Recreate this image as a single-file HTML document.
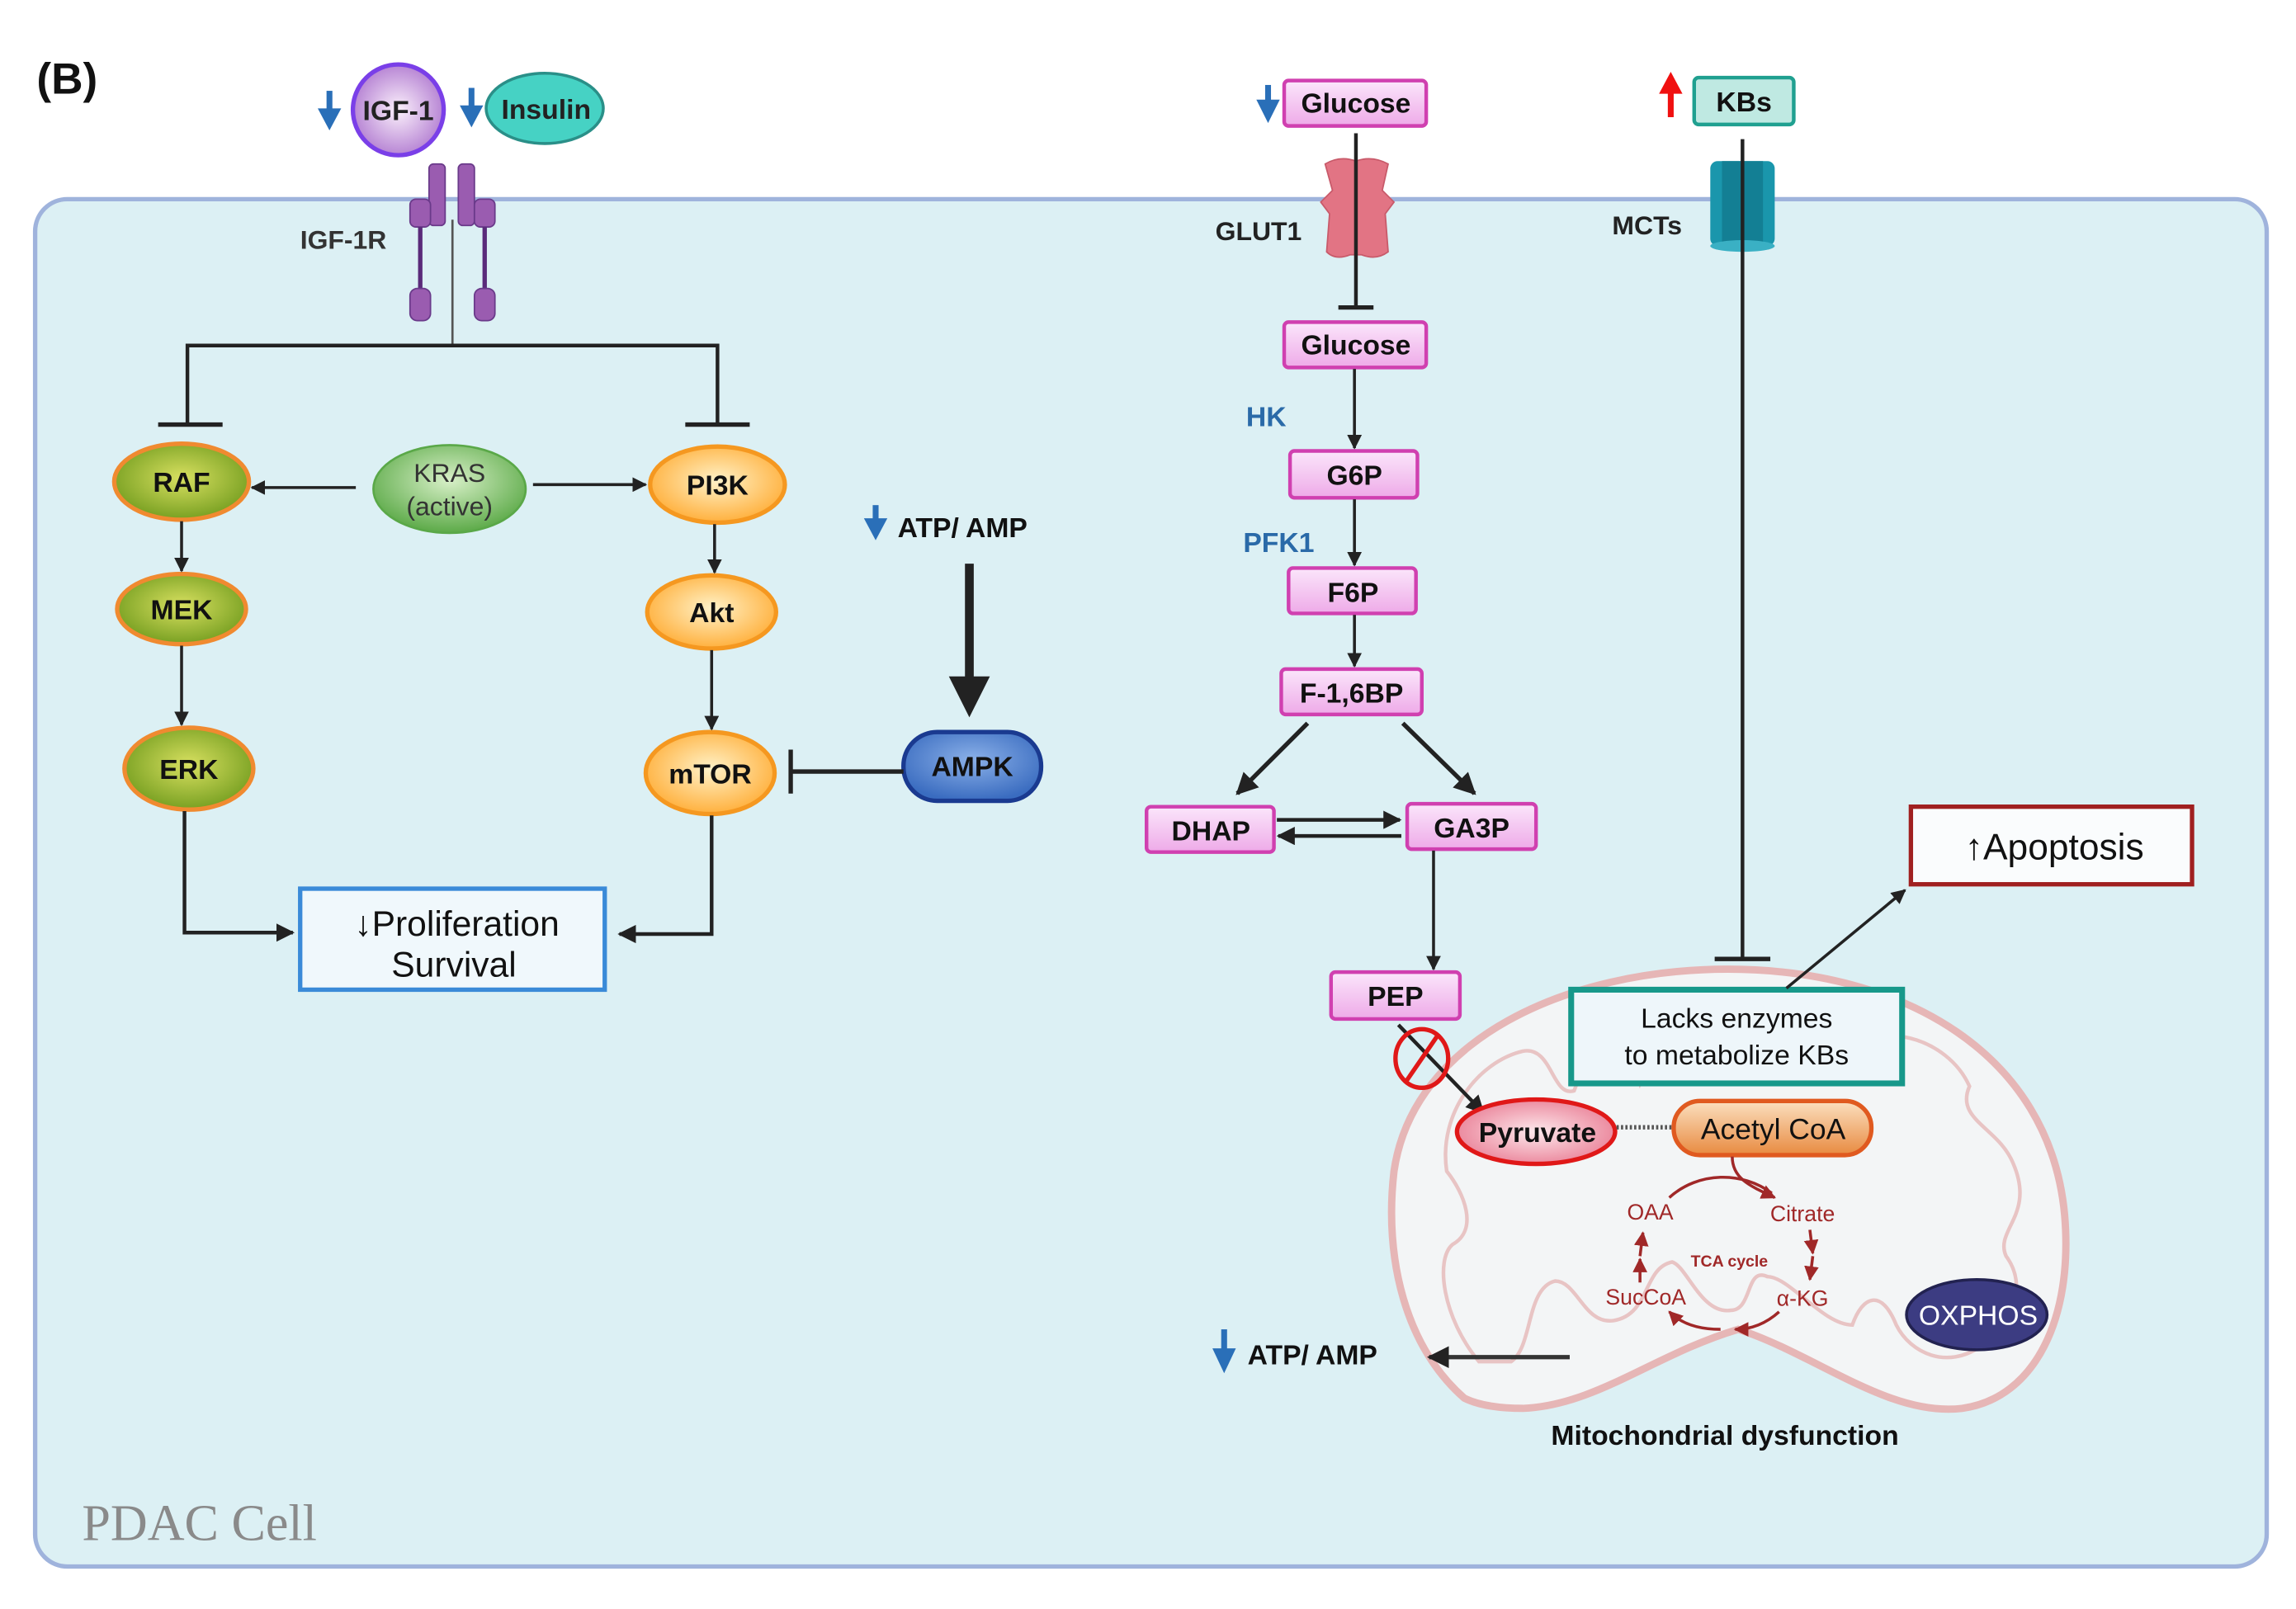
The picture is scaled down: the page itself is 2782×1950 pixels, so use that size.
<!DOCTYPE html>
<html><head><meta charset="utf-8"><style>
html,body{margin:0;padding:0;background:#fff;}
svg{display:block;}
text{font-family:"Liberation Sans",sans-serif;font-weight:bold;}
</style></head><body>
<svg width="2782" height="1950" viewBox="0 0 1568 1099" xmlns="http://www.w3.org/2000/svg">
<defs>
<radialGradient id="gOl" cx="50%" cy="45%" r="60%"><stop offset="0" stop-color="#d8e060"/><stop offset="1" stop-color="#6f9a1c"/></radialGradient>
<radialGradient id="gOr" cx="50%" cy="45%" r="60%"><stop offset="0" stop-color="#fff2c8"/><stop offset="1" stop-color="#ffaa30"/></radialGradient>
<radialGradient id="gGr" cx="50%" cy="40%" r="60%"><stop offset="0" stop-color="#d8f0c8"/><stop offset="1" stop-color="#5caa48"/></radialGradient>
<radialGradient id="gPu" cx="50%" cy="50%" r="55%"><stop offset="0" stop-color="#fbf0fb"/><stop offset="1" stop-color="#b07ad0"/></radialGradient>
<radialGradient id="gBl" cx="50%" cy="40%" r="60%"><stop offset="0" stop-color="#8ab0e8"/><stop offset="1" stop-color="#3a6cc0"/></radialGradient>
<linearGradient id="gPk" x1="0" y1="0" x2="0" y2="1"><stop offset="0" stop-color="#fbe6fb"/><stop offset="1" stop-color="#eeaae8"/></linearGradient>
<radialGradient id="gPy" cx="50%" cy="50%" r="60%"><stop offset="0" stop-color="#fde8ec"/><stop offset="1" stop-color="#e87890"/></radialGradient>
<linearGradient id="gAc" x1="0" y1="0" x2="0" y2="1"><stop offset="0" stop-color="#fbe0c0"/><stop offset="1" stop-color="#e88a40"/></linearGradient>
<marker id="ar" viewBox="0 0 10 10" refX="9" refY="5" markerWidth="5" markerHeight="5" orient="auto"><path d="M0,0 L10,5 L0,10 Z" fill="#222"/></marker>
<marker id="arR" viewBox="0 0 10 10" refX="9" refY="5" markerWidth="5" markerHeight="5" orient="auto"><path d="M0,0 L10,5 L0,10 Z" fill="#a02828"/></marker>
</defs>

<!-- cell -->
<rect x="24" y="136" width="1524" height="934" rx="22" fill="#dcf0f4" stroke="#9fb3dc" stroke-width="3"/>
<text x="25" y="64" font-size="30" fill="#111">(B)</text>
<text x="56" y="1052" font-size="35" fill="#8a8a8a" style="font-family:'Liberation Serif',serif;font-weight:normal">PDAC Cell</text>

<!-- ligands -->
<path d="M225,62 V78" stroke="#2a6fb8" stroke-width="4"/><path d="M217,74 L233,74 L225,89 Z" fill="#2a6fb8"/>
<circle cx="272" cy="75" r="31" fill="url(#gPu)" stroke="#7a3fe8" stroke-width="3"/>
<text x="272" y="82" font-size="19" text-anchor="middle" fill="#222">IGF-1</text>
<path d="M322,60 V76" stroke="#2a6fb8" stroke-width="4"/><path d="M314,72 L330,72 L322,87 Z" fill="#2a6fb8"/>
<ellipse cx="372" cy="74" rx="40" ry="24" fill="#46d2c4" stroke="#2a8f88" stroke-width="2"/>
<text x="373" y="81" font-size="19" text-anchor="middle" fill="#222">Insulin</text>

<!-- receptor -->
<line x1="309" y1="150" x2="309" y2="236" stroke="#555" stroke-width="1.5"/>
<rect x="293" y="112" width="11" height="42" rx="3" fill="#9a5cb0" stroke="#6a3a8a"/>
<rect x="313" y="112" width="11" height="42" rx="3" fill="#9a5cb0" stroke="#6a3a8a"/>
<rect x="280" y="136" width="14" height="19" rx="4" fill="#9a5cb0" stroke="#6a3a8a"/>
<rect x="324" y="136" width="14" height="19" rx="4" fill="#9a5cb0" stroke="#6a3a8a"/>
<line x1="287" y1="155" x2="287" y2="200" stroke="#5a2a7a" stroke-width="3"/>
<line x1="331" y1="155" x2="331" y2="200" stroke="#5a2a7a" stroke-width="3"/>
<rect x="280" y="197" width="14" height="22" rx="5" fill="#9a5cb0" stroke="#6a3a8a"/>
<rect x="324" y="197" width="14" height="22" rx="5" fill="#9a5cb0" stroke="#6a3a8a"/>
<text x="205" y="170" font-size="18" fill="#333">IGF-1R</text>

<!-- branch inhibition -->
<path d="M128,290 V236 H490 V290" fill="none" stroke="#222" stroke-width="2.5"/>
<line x1="108" y1="290" x2="152" y2="290" stroke="#222" stroke-width="3"/>
<line x1="468" y1="290" x2="512" y2="290" stroke="#222" stroke-width="3"/>

<!-- left nodes -->
<ellipse cx="124" cy="329" rx="46" ry="26" fill="url(#gOl)" stroke="#f08a30" stroke-width="3"/>
<text x="124" y="336" font-size="19" text-anchor="middle" fill="#111">RAF</text>
<ellipse cx="124" cy="416" rx="44" ry="24" fill="url(#gOl)" stroke="#f08a30" stroke-width="3"/>
<text x="124" y="423" font-size="19" text-anchor="middle" fill="#111">MEK</text>
<ellipse cx="129" cy="525" rx="44" ry="28" fill="url(#gOl)" stroke="#f08a30" stroke-width="3"/>
<text x="129" y="532" font-size="19" text-anchor="middle" fill="#111">ERK</text>
<ellipse cx="307" cy="334" rx="52" ry="30" fill="url(#gGr)" stroke="#5aa848" stroke-width="1.5"/>
<text x="307" y="329" font-size="18" text-anchor="middle" fill="#333" style="font-weight:normal">KRAS</text>
<text x="307" y="352" font-size="18" text-anchor="middle" fill="#333" style="font-weight:normal">(active)</text>
<line x1="243" y1="333" x2="172" y2="333" stroke="#222" stroke-width="2" marker-end="url(#ar)"/>
<line x1="364" y1="331" x2="441" y2="331" stroke="#222" stroke-width="2" marker-end="url(#ar)"/>
<line x1="124" y1="356" x2="124" y2="390" stroke="#222" stroke-width="2" marker-end="url(#ar)"/>
<line x1="124" y1="441" x2="124" y2="495" stroke="#222" stroke-width="2" marker-end="url(#ar)"/>

<!-- right nodes -->
<ellipse cx="490" cy="331" rx="46" ry="26" fill="url(#gOr)" stroke="#f59820" stroke-width="3"/>
<text x="490" y="338" font-size="19" text-anchor="middle" fill="#111">PI3K</text>
<ellipse cx="486" cy="418" rx="44" ry="25" fill="url(#gOr)" stroke="#f59820" stroke-width="3"/>
<text x="486" y="425" font-size="19" text-anchor="middle" fill="#111">Akt</text>
<ellipse cx="485" cy="528" rx="44" ry="28" fill="url(#gOr)" stroke="#f59820" stroke-width="3"/>
<text x="485" y="535" font-size="19" text-anchor="middle" fill="#111">mTOR</text>
<line x1="488" y1="358" x2="488" y2="391" stroke="#222" stroke-width="2" marker-end="url(#ar)"/>
<line x1="486" y1="444" x2="486" y2="498" stroke="#222" stroke-width="2" marker-end="url(#ar)"/>

<!-- AMPK -->
<path d="M598,345 V358" stroke="#2a6fb8" stroke-width="4"/><path d="M590,354 L606,354 L598,369 Z" fill="#2a6fb8"/>
<text x="613" y="367" font-size="19" fill="#111">ATP/ AMP</text>
<line x1="662" y1="385" x2="662" y2="468" stroke="#222" stroke-width="6"/>
<path d="M648,462 L676,462 L662,490 Z" fill="#222"/>
<rect x="617" y="500" width="94" height="47" rx="23" fill="url(#gBl)" stroke="#1a3a90" stroke-width="3"/>
<text x="664" y="530" font-size="19" text-anchor="middle" fill="#111">AMPK</text>
<line x1="617" y1="527" x2="540" y2="527" stroke="#222" stroke-width="3"/>
<line x1="540" y1="512" x2="540" y2="542" stroke="#222" stroke-width="3"/>

<!-- Proliferation -->
<path d="M126,554 V637 H200" fill="none" stroke="#222" stroke-width="2.5" marker-end="url(#ar)"/>
<path d="M486,557 V638 H423" fill="none" stroke="#222" stroke-width="2.5" marker-end="url(#ar)"/>
<rect x="205" y="607" width="208" height="69" fill="#f0f8fc" stroke="#3a8ad8" stroke-width="3"/>
<text x="312" y="639" font-size="24" text-anchor="middle" fill="#111" style="font-weight:normal">↓Proliferation</text>
<text x="310" y="667" font-size="24" text-anchor="middle" fill="#111" style="font-weight:normal">Survival</text>

<!-- glycolysis -->
<path d="M866,58 V72" stroke="#2a6fb8" stroke-width="4"/><path d="M858,68 L874,68 L866,84 Z" fill="#2a6fb8"/>
<rect x="877" y="55" width="97" height="31" rx="3" fill="url(#gPk)" stroke="#d040b0" stroke-width="2.5"/>
<text x="926" y="77" font-size="19" text-anchor="middle" fill="#111">Glucose</text>
<path d="M905,112 Q915,106 926,110 Q937,106 948,112 L944,130 L952,138 L946,146 L948,172 Q940,178 930,174 L922,174 Q912,178 906,172 L908,146 L902,138 L910,130 Z" fill="#e27484" stroke="#c85a6a" stroke-width="1"/>
<line x1="926" y1="91" x2="926" y2="210" stroke="#222" stroke-width="2.5"/>
<line x1="914" y1="210" x2="938" y2="210" stroke="#222" stroke-width="3"/>
<text x="830" y="164" font-size="18" fill="#222">GLUT1</text>
<rect x="877" y="220" width="97" height="31" rx="3" fill="url(#gPk)" stroke="#d040b0" stroke-width="2.5"/>
<text x="926" y="242" font-size="19" text-anchor="middle" fill="#111">Glucose</text>
<text x="851" y="291" font-size="19" fill="#2a6aa8">HK</text>
<line x1="925" y1="252" x2="925" y2="306" stroke="#222" stroke-width="2" marker-end="url(#ar)"/>
<rect x="881" y="308" width="87" height="32" rx="3" fill="url(#gPk)" stroke="#d040b0" stroke-width="2.5"/>
<text x="925" y="331" font-size="19" text-anchor="middle" fill="#111">G6P</text>
<text x="849" y="377" font-size="19" fill="#2a6aa8">PFK1</text>
<line x1="925" y1="341" x2="925" y2="386" stroke="#222" stroke-width="2" marker-end="url(#ar)"/>
<rect x="880" y="388" width="87" height="31" rx="3" fill="url(#gPk)" stroke="#d040b0" stroke-width="2.5"/>
<text x="924" y="411" font-size="19" text-anchor="middle" fill="#111">F6P</text>
<line x1="925" y1="420" x2="925" y2="455" stroke="#222" stroke-width="2" marker-end="url(#ar)"/>
<rect x="875" y="457" width="96" height="31" rx="3" fill="url(#gPk)" stroke="#d040b0" stroke-width="2.5"/>
<text x="923" y="480" font-size="19" text-anchor="middle" fill="#111">F-1,6BP</text>
<line x1="893" y1="494" x2="845" y2="542" stroke="#222" stroke-width="3" marker-end="url(#ar)"/>
<line x1="958" y1="494" x2="1007" y2="542" stroke="#222" stroke-width="3" marker-end="url(#ar)"/>
<rect x="783" y="551" width="87" height="31" rx="3" fill="url(#gPk)" stroke="#d040b0" stroke-width="2.5"/>
<text x="827" y="574" font-size="19" text-anchor="middle" fill="#111">DHAP</text>
<rect x="961" y="549" width="88" height="31" rx="3" fill="url(#gPk)" stroke="#d040b0" stroke-width="2.5"/>
<text x="1005" y="572" font-size="19" text-anchor="middle" fill="#111">GA3P</text>
<line x1="872" y1="560" x2="956" y2="560" stroke="#222" stroke-width="2.5" marker-end="url(#ar)"/>
<line x1="957" y1="571" x2="873" y2="571" stroke="#222" stroke-width="2.5" marker-end="url(#ar)"/>
<line x1="979" y1="581" x2="979" y2="662" stroke="#222" stroke-width="2" marker-end="url(#ar)"/>

<!-- mitochondrion -->
<path d="M1000,955 C960,920 945,860 952,800 C965,710 1070,662 1180,662 C1300,662 1400,720 1410,830 C1416,900 1390,955 1340,962 C1290,968 1240,925 1187,908 C1130,925 1090,960 1040,962 C1025,962 1010,960 1000,955 Z" fill="#f3f5f6" stroke="#e6b6b6" stroke-width="5"/>
<path d="M1010,930 C985,900 980,860 992,850 C1010,840 1000,815 988,800 C982,760 1010,725 1040,718 C1060,714 1060,750 1075,745 C1090,705 1110,708 1120,740 C1140,695 1170,695 1190,708 C1210,695 1240,695 1260,722 C1280,695 1330,708 1345,742 C1335,765 1365,770 1375,795 C1390,830 1362,840 1370,858 C1385,878 1375,905 1352,920 C1330,935 1305,925 1295,905 C1285,880 1272,885 1265,905 C1245,905 1222,872 1207,872 C1192,865 1197,895 1182,895 C1162,898 1152,865 1142,862 C1122,866 1127,898 1102,902 C1082,905 1077,875 1062,875 C1042,880 1047,920 1032,930 Z" fill="none" stroke="#e8c4c4" stroke-width="2.5"/>

<!-- PEP / pyruvate -->
<rect x="909" y="664" width="88" height="32" rx="3" fill="url(#gPk)" stroke="#d040b0" stroke-width="2.5"/>
<text x="953" y="687" font-size="19" text-anchor="middle" fill="#111">PEP</text>
<line x1="955" y1="700" x2="1013" y2="760" stroke="#222" stroke-width="2.5" marker-end="url(#ar)"/>
<ellipse cx="971" cy="723" rx="18" ry="20" fill="none" stroke="#e01818" stroke-width="3"/>
<line x1="982" y1="707" x2="960" y2="739" stroke="#e01818" stroke-width="3"/>
<ellipse cx="1049" cy="773" rx="54" ry="22" fill="url(#gPy)" stroke="#e01818" stroke-width="3"/>
<text x="1050" y="780" font-size="19" text-anchor="middle" fill="#111">Pyruvate</text>
<line x1="1104" y1="770" x2="1143" y2="770" stroke="#555" stroke-width="3" stroke-dasharray="1.5,1.5"/>
<rect x="1143" y="752" width="135" height="37" rx="18" fill="url(#gAc)" stroke="#e05a20" stroke-width="3"/>
<text x="1211" y="778" font-size="20" text-anchor="middle" fill="#111" style="font-weight:normal">Acetyl CoA</text>

<!-- TCA -->
<path d="M1183,790 C1183,805 1195,810 1212,818" fill="none" stroke="#a02828" stroke-width="2" marker-end="url(#arR)"/>
<path d="M1140,818 C1160,800 1190,800 1210,815" fill="none" stroke="#a02828" stroke-width="2"/>
<text x="1127" y="833" font-size="15" text-anchor="middle" fill="#a02828" style="font-weight:normal">OAA</text>
<text x="1231" y="834" font-size="15" text-anchor="middle" fill="#a02828" style="font-weight:normal">Citrate</text>
<text x="1181" y="865" font-size="11" text-anchor="middle" fill="#a02828">TCA cycle</text>
<text x="1124" y="891" font-size="15" text-anchor="middle" fill="#a02828" style="font-weight:normal">SucCoA</text>
<text x="1231" y="892" font-size="15" text-anchor="middle" fill="#a02828" style="font-weight:normal">α-KG</text>
<line x1="1236" y1="840" x2="1238" y2="856" stroke="#a02828" stroke-width="2" marker-end="url(#arR)"/>
<line x1="1238" y1="858" x2="1236" y2="874" stroke="#a02828" stroke-width="2" marker-end="url(#arR)"/>
<line x1="1120" y1="876" x2="1120" y2="860" stroke="#a02828" stroke-width="2" marker-end="url(#arR)"/>
<line x1="1120" y1="858" x2="1122" y2="842" stroke="#a02828" stroke-width="2" marker-end="url(#arR)"/>
<path d="M1215,896 C1205,905 1195,908 1185,908" fill="none" stroke="#a02828" stroke-width="2" marker-end="url(#arR)"/>
<path d="M1175,908 C1160,908 1148,904 1140,896" fill="none" stroke="#a02828" stroke-width="2" marker-end="url(#arR)"/>
<ellipse cx="1350" cy="898" rx="48" ry="24" fill="#3c3c82" stroke="#222250" stroke-width="2"/>
<text x="1351" y="905" font-size="19" text-anchor="middle" fill="#fff" style="font-weight:normal">OXPHOS</text>

<!-- ATP bottom -->
<path d="M836,908 V925" stroke="#2a6fb8" stroke-width="4"/><path d="M828,921 L844,921 L836,938 Z" fill="#2a6fb8"/>
<text x="852" y="932" font-size="19" fill="#111">ATP/ AMP</text>
<line x1="1072" y1="927" x2="976" y2="927" stroke="#333" stroke-width="3" marker-end="url(#ar)"/>
<text x="1178" y="987" font-size="19" text-anchor="middle" fill="#111">Mitochondrial dysfunction</text>

<!-- KBs -->
<path d="M1141,60 V80" stroke="#f01010" stroke-width="4"/><path d="M1133,64 L1149,64 L1141,49 Z" fill="#f01010"/>
<rect x="1157" y="53" width="68" height="32" rx="3" fill="#bfe9e2" stroke="#20a090" stroke-width="2.5"/>
<text x="1191" y="76" font-size="19" text-anchor="middle" fill="#111">KBs</text>
<rect x="1168" y="110" width="44" height="58" rx="5" fill="#1a96ac"/>
<rect x="1176" y="110" width="28" height="58" fill="#137f94"/>
<ellipse cx="1190" cy="168" rx="22" ry="4" fill="#3ab0c4"/>
<text x="1101" y="160" font-size="18" fill="#222">MCTs</text>
<line x1="1190" y1="95" x2="1190" y2="655" stroke="#222" stroke-width="2.5"/>
<line x1="1171" y1="655" x2="1209" y2="655" stroke="#222" stroke-width="3"/>

<rect x="1073" y="676" width="226" height="64" fill="#eef6fa" stroke="#17988a" stroke-width="4"/>
<text x="1186" y="702" font-size="19" text-anchor="middle" fill="#111" style="font-weight:normal">Lacks enzymes</text>
<text x="1186" y="727" font-size="19" text-anchor="middle" fill="#111" style="font-weight:normal">to metabolize KBs</text>
<line x1="1220" y1="675" x2="1301" y2="608" stroke="#222" stroke-width="2" marker-end="url(#ar)"/>
<rect x="1305" y="551" width="192" height="53" fill="#fafcfd" stroke="#a02020" stroke-width="3"/>
<text x="1403" y="587" font-size="25" text-anchor="middle" fill="#111" style="font-weight:normal">↑Apoptosis</text>
</svg>
</body></html>
